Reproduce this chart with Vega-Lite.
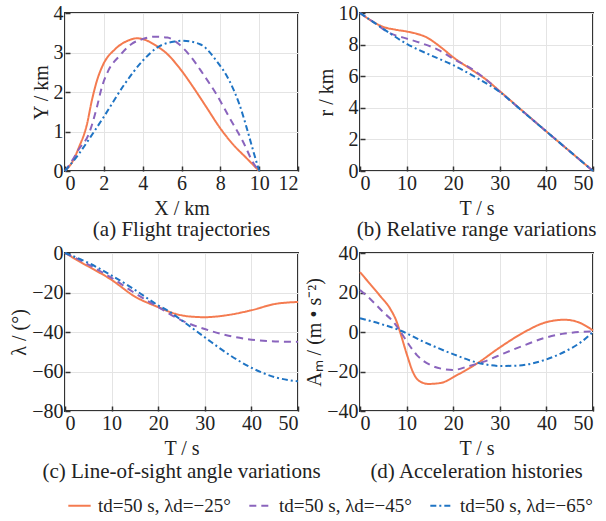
{
  "$schema": "https://vega.github.io/schema/vega-lite/v6.json",
  "padding": {"left": 8, "right": 0, "top": 2, "bottom": 0},
  "background": "white",
  "bounds": "flush",
  "spacing": {"row": 82, "column": 62},
  "config": {
    "font": "Liberation Serif",
    "view": {"stroke": "#333333", "strokeWidth": 2},
    "axis": {
      "labelFont": "Liberation Serif", "labelFontSize": 20, "labelColor": "#222222",
      "titleFont": "Liberation Serif", "titleFontSize": 20, "titleFontWeight": "normal", "titleColor": "#222222",
      "gridColor": "#e4e4e4", "domain": false, "tickColor": "#333333", "tickSize": -5, "tickWidth": 1.5,
      "labelPadding": 7, "titlePadding": 2
    },
    "title": {"font": "Liberation Serif", "fontSize": 21, "fontWeight": "normal", "color": "#222222", "frame": "group"}
  },
  "data": {"values": [
    {"p":"a","s":"25","x":0,"y":0},{"p":"a","s":"25","x":0.4,"y":0.25},{"p":"a","s":"25","x":0.71,"y":0.59},{"p":"a","s":"25","x":1.13,"y":1.18},{"p":"a","s":"25","x":1.38,"y":1.78},{"p":"a","s":"25","x":1.64,"y":2.28},{"p":"a","s":"25","x":1.97,"y":2.7},{"p":"a","s":"25","x":2.57,"y":3.08},{"p":"a","s":"25","x":3.24,"y":3.3},{"p":"a","s":"25","x":3.7,"y":3.36},{"p":"a","s":"25","x":4.0,"y":3.34},{"p":"a","s":"25","x":4.6,"y":3.2},{"p":"a","s":"25","x":5.27,"y":2.96},{"p":"a","s":"25","x":5.94,"y":2.58},{"p":"a","s":"25","x":6.62,"y":2.11},{"p":"a","s":"25","x":7.29,"y":1.61},{"p":"a","s":"25","x":7.97,"y":1.1},{"p":"a","s":"25","x":8.64,"y":0.68},{"p":"a","s":"25","x":9.32,"y":0.34},{"p":"a","s":"25","x":10,"y":0},
    {"p":"a","s":"45","x":0,"y":0},{"p":"a","s":"45","x":0.35,"y":0.25},{"p":"a","s":"45","x":0.71,"y":0.55},{"p":"a","s":"45","x":1.22,"y":0.93},{"p":"a","s":"45","x":1.64,"y":1.61},{"p":"a","s":"45","x":1.89,"y":2.11},{"p":"a","s":"45","x":2.23,"y":2.54},{"p":"a","s":"45","x":2.82,"y":2.92},{"p":"a","s":"45","x":3.41,"y":3.21},{"p":"a","s":"45","x":4.0,"y":3.34},{"p":"a","s":"45","x":4.59,"y":3.4},{"p":"a","s":"45","x":5.27,"y":3.38},{"p":"a","s":"45","x":5.77,"y":3.25},{"p":"a","s":"45","x":6.44,"y":2.92},{"p":"a","s":"45","x":7.12,"y":2.45},{"p":"a","s":"45","x":7.8,"y":1.94},{"p":"a","s":"45","x":8.47,"y":1.35},{"p":"a","s":"45","x":9.15,"y":0.76},{"p":"a","s":"45","x":9.74,"y":0.17},{"p":"a","s":"45","x":10,"y":0},
    {"p":"a","s":"65","x":0,"y":0},{"p":"a","s":"65","x":0.71,"y":0.43},{"p":"a","s":"65","x":1.3,"y":0.85},{"p":"a","s":"65","x":1.97,"y":1.35},{"p":"a","s":"65","x":3.07,"y":2.2},{"p":"a","s":"65","x":4.0,"y":2.79},{"p":"a","s":"65","x":4.76,"y":3.13},{"p":"a","s":"65","x":5.69,"y":3.28},{"p":"a","s":"65","x":6.0,"y":3.3},{"p":"a","s":"65","x":6.95,"y":3.21},{"p":"a","s":"65","x":7.8,"y":2.79},{"p":"a","s":"65","x":8.47,"y":2.28},{"p":"a","s":"65","x":8.98,"y":1.69},{"p":"a","s":"65","x":9.4,"y":1.02},{"p":"a","s":"65","x":9.74,"y":0.43},{"p":"a","s":"65","x":10,"y":0},
    {"p":"b","s":"25","x":0,"y":10},{"p":"b","s":"25","x":2.5,"y":9.5},{"p":"b","s":"25","x":5,"y":9.12},{"p":"b","s":"25","x":7.5,"y":8.95},{"p":"b","s":"25","x":10,"y":8.83},{"p":"b","s":"25","x":12,"y":8.7},{"p":"b","s":"25","x":14,"y":8.5},{"p":"b","s":"25","x":17.5,"y":7.8},{"p":"b","s":"25","x":20,"y":7.2},{"p":"b","s":"25","x":24,"y":6.4},{"p":"b","s":"25","x":27,"y":5.8},{"p":"b","s":"25","x":30,"y":5.05},{"p":"b","s":"25","x":35,"y":3.77},{"p":"b","s":"25","x":40,"y":2.5},{"p":"b","s":"25","x":45,"y":1.25},{"p":"b","s":"25","x":50,"y":0},
    {"p":"b","s":"45","x":0,"y":10},{"p":"b","s":"45","x":3,"y":9.4},{"p":"b","s":"45","x":6.2,"y":8.75},{"p":"b","s":"45","x":9.7,"y":8.41},{"p":"b","s":"45","x":13.2,"y":8.09},{"p":"b","s":"45","x":16.8,"y":7.67},{"p":"b","s":"45","x":20.3,"y":7.05},{"p":"b","s":"45","x":23.8,"y":6.5},{"p":"b","s":"45","x":27,"y":5.8},{"p":"b","s":"45","x":30,"y":5.02},{"p":"b","s":"45","x":35,"y":3.76},{"p":"b","s":"45","x":40,"y":2.5},{"p":"b","s":"45","x":45,"y":1.25},{"p":"b","s":"45","x":50,"y":0},
    {"p":"b","s":"65","x":0,"y":10},{"p":"b","s":"65","x":5,"y":9.0},{"p":"b","s":"65","x":10,"y":8.05},{"p":"b","s":"65","x":15,"y":7.35},{"p":"b","s":"65","x":20,"y":6.7},{"p":"b","s":"65","x":25,"y":5.9},{"p":"b","s":"65","x":30,"y":5.0},{"p":"b","s":"65","x":35,"y":3.75},{"p":"b","s":"65","x":40,"y":2.5},{"p":"b","s":"65","x":45,"y":1.25},{"p":"b","s":"65","x":50,"y":0},
    {"p":"c","s":"25","x":0,"y":0},{"p":"c","s":"25","x":4.4,"y":-6},{"p":"c","s":"25","x":9.8,"y":-13.3},{"p":"c","s":"25","x":15.1,"y":-22.2},{"p":"c","s":"25","x":20,"y":-27.4},{"p":"c","s":"25","x":23.7,"y":-30.8},{"p":"c","s":"25","x":27,"y":-32.2},{"p":"c","s":"25","x":30,"y":-32.5},{"p":"c","s":"25","x":34.4,"y":-31.6},{"p":"c","s":"25","x":40,"y":-29},{"p":"c","s":"25","x":45.1,"y":-25.8},{"p":"c","s":"25","x":50,"y":-24.8},
    {"p":"c","s":"45","x":0,"y":0},{"p":"c","s":"45","x":4.4,"y":-5.1},{"p":"c","s":"45","x":9.8,"y":-12.3},{"p":"c","s":"45","x":15.1,"y":-20.5},{"p":"c","s":"45","x":20,"y":-27.4},{"p":"c","s":"45","x":25.1,"y":-34.2},{"p":"c","s":"45","x":30,"y":-38.5},{"p":"c","s":"45","x":35.1,"y":-41.9},{"p":"c","s":"45","x":40,"y":-43.9},{"p":"c","s":"45","x":45.1,"y":-44.8},{"p":"c","s":"45","x":50,"y":-45},
    {"p":"c","s":"65","x":0,"y":0},{"p":"c","s":"65","x":4.4,"y":-4.3},{"p":"c","s":"65","x":9.8,"y":-11.1},{"p":"c","s":"65","x":15.1,"y":-18.8},{"p":"c","s":"65","x":20,"y":-26.5},{"p":"c","s":"65","x":22.3,"y":-29.5},{"p":"c","s":"65","x":25.1,"y":-34.2},{"p":"c","s":"65","x":30,"y":-42.7},{"p":"c","s":"65","x":35.1,"y":-51.3},{"p":"c","s":"65","x":40,"y":-58.1},{"p":"c","s":"65","x":45.1,"y":-62.9},{"p":"c","s":"65","x":50,"y":-65},
    {"p":"d","s":"25","x":0,"y":30.3},{"p":"d","s":"25","x":2.2,"y":24.2},{"p":"d","s":"25","x":4.3,"y":18.3},{"p":"d","s":"25","x":6.5,"y":11.7},{"p":"d","s":"25","x":7.9,"y":5},{"p":"d","s":"25","x":8.6,"y":0},{"p":"d","s":"25","x":10.1,"y":-11.7},{"p":"d","s":"25","x":11.4,"y":-20.5},{"p":"d","s":"25","x":12.6,"y":-24.6},{"p":"d","s":"25","x":14.7,"y":-26.3},{"p":"d","s":"25","x":17.3,"y":-25.8},{"p":"d","s":"25","x":20.9,"y":-21.7},{"p":"d","s":"25","x":25.2,"y":-15.8},{"p":"d","s":"25","x":30.2,"y":-7.5},{"p":"d","s":"25","x":35.3,"y":0},{"p":"d","s":"25","x":39.6,"y":4.7},{"p":"d","s":"25","x":43.9,"y":6.2},{"p":"d","s":"25","x":46.8,"y":5},{"p":"d","s":"25","x":50,"y":0.8},
    {"p":"d","s":"45","x":0,"y":21.3},{"p":"d","s":"45","x":2.2,"y":16.7},{"p":"d","s":"45","x":5,"y":10},{"p":"d","s":"45","x":7.2,"y":5},{"p":"d","s":"45","x":8.5,"y":0.8},{"p":"d","s":"45","x":10.1,"y":-5},{"p":"d","s":"45","x":12.2,"y":-11.7},{"p":"d","s":"45","x":15.1,"y":-16.7},{"p":"d","s":"45","x":18,"y":-18.8},{"p":"d","s":"45","x":20.1,"y":-19.2},{"p":"d","s":"45","x":23,"y":-17.5},{"p":"d","s":"45","x":26.6,"y":-15},{"p":"d","s":"45","x":30.9,"y":-10.8},{"p":"d","s":"45","x":35.3,"y":-6.7},{"p":"d","s":"45","x":39.6,"y":-3},{"p":"d","s":"45","x":43.9,"y":-0.8},{"p":"d","s":"45","x":50,"y":0.3},
    {"p":"d","s":"65","x":0,"y":7},{"p":"d","s":"65","x":4.3,"y":4.2},{"p":"d","s":"65","x":8.6,"y":0.8},{"p":"d","s":"65","x":13.7,"y":-5},{"p":"d","s":"65","x":20.1,"y":-11.3},{"p":"d","s":"65","x":25.2,"y":-15.5},{"p":"d","s":"65","x":30.2,"y":-17.2},{"p":"d","s":"65","x":33.8,"y":-17},{"p":"d","s":"65","x":39.6,"y":-14.2},{"p":"d","s":"65","x":43.9,"y":-10},{"p":"d","s":"65","x":47.5,"y":-5},{"p":"d","s":"65","x":50,"y":0}
  ]},
  "columns": 2,
  "resolve": {"scale": {"color": "shared", "strokeDash": "shared"}},
  "concat": [
    {
      "width": 233, "height": 158,
      "title": {"text": "(a) Flight trajectories", "orient": "bottom", "offset": 1},
      "transform": [{"filter": "datum.p == 'a'"}],
      "mark": {"type": "line", "strokeWidth": 2, "interpolate": "monotone"},
      "encoding": {
        "x": {"field": "x", "type": "quantitative", "scale": {"domain": [0, 12], "nice": false}, "axis": {"title": "X / km", "values": [0, 2, 4, 6, 8, 10, 12], "titlePadding": 5}},
        "y": {"field": "y", "type": "quantitative", "scale": {"domain": [0, 4], "nice": false}, "axis": {"title": "Y / km", "values": [0, 1, 2, 3, 4]}},
        "color": {"field": "s", "type": "nominal", "scale": {"domain": ["25", "45", "65"], "range": ["#F47B50", "#8A64BD", "#1F74C4"]},
          "legend": {"orient": "bottom", "direction": "horizontal", "title": null, "labelExpr": "'td=50 s, λd=−' + datum.label + '°'", "labelFont": "Liberation Serif", "labelFontSize": 19, "labelColor": "#222222", "symbolType": "stroke", "symbolSize": 500, "symbolStrokeWidth": 2, "columnPadding": 14, "labelOffset": 6, "offset": 8, "padding": 2}},
        "strokeDash": {"field": "s", "type": "nominal", "scale": {"domain": ["25", "45", "65"], "range": [[1, 0], [7, 5], [6, 3, 2, 3]]},
          "legend": {"orient": "bottom", "direction": "horizontal", "title": null, "labelExpr": "'td=50 s, λd=−' + datum.label + '°'", "labelFont": "Liberation Serif", "labelFontSize": 19, "labelColor": "#222222", "symbolType": "stroke", "symbolSize": 500, "symbolStrokeWidth": 2, "columnPadding": 14, "labelOffset": 6, "offset": 8, "padding": 2}}
      }
    },
    {
      "width": 233, "height": 158,
      "title": {"text": "(b) Relative range variations", "orient": "bottom", "offset": 1},
      "transform": [{"filter": "datum.p == 'b'"}],
      "mark": {"type": "line", "strokeWidth": 2, "interpolate": "monotone"},
      "encoding": {
        "x": {"field": "x", "type": "quantitative", "scale": {"domain": [0, 50], "nice": false}, "axis": {"title": "T / s", "values": [0, 10, 20, 30, 40, 50], "titlePadding": 5}},
        "y": {"field": "y", "type": "quantitative", "scale": {"domain": [0, 10], "nice": false}, "axis": {"title": "r / km", "values": [0, 2, 4, 6, 8, 10]}},
        "color": {"field": "s", "type": "nominal"},
        "strokeDash": {"field": "s", "type": "nominal"}
      }
    },
    {
      "width": 233, "height": 158,
      "title": {"text": "(c) Line-of-sight angle variations", "orient": "bottom", "offset": 3},
      "transform": [{"filter": "datum.p == 'c'"}],
      "mark": {"type": "line", "strokeWidth": 2, "interpolate": "monotone"},
      "encoding": {
        "x": {"field": "x", "type": "quantitative", "scale": {"domain": [0, 50], "nice": false}, "axis": {"title": "T / s", "values": [0, 10, 20, 30, 40, 50], "titlePadding": 5}},
        "y": {"field": "y", "type": "quantitative", "scale": {"domain": [-80, 0], "nice": false}, "axis": {"title": "λ / (°)", "values": [-80, -60, -40, -20, 0], "labelExpr": "replace(datum.label, '-', '−')"}},
        "color": {"field": "s", "type": "nominal"},
        "strokeDash": {"field": "s", "type": "nominal"}
      }
    },
    {
      "width": 233, "height": 158,
      "title": {"text": "(d) Acceleration histories", "orient": "bottom", "offset": 3},
      "transform": [{"filter": "datum.p == 'd'"}],
      "mark": {"type": "line", "strokeWidth": 2, "interpolate": "monotone"},
      "encoding": {
        "x": {"field": "x", "type": "quantitative", "scale": {"domain": [0, 50], "nice": false}, "axis": {"title": "T / s", "values": [0, 10, 20, 30, 40, 50], "titlePadding": 5}},
        "y": {"field": "y", "type": "quantitative", "scale": {"domain": [-40, 40], "nice": false}, "axis": {"title": "Aₘ / (m • s⁻²)", "values": [-40, -20, 0, 20, 40], "labelExpr": "replace(datum.label, '-', '−')"}},
        "color": {"field": "s", "type": "nominal"},
        "strokeDash": {"field": "s", "type": "nominal"}
      }
    }
  ]
}
